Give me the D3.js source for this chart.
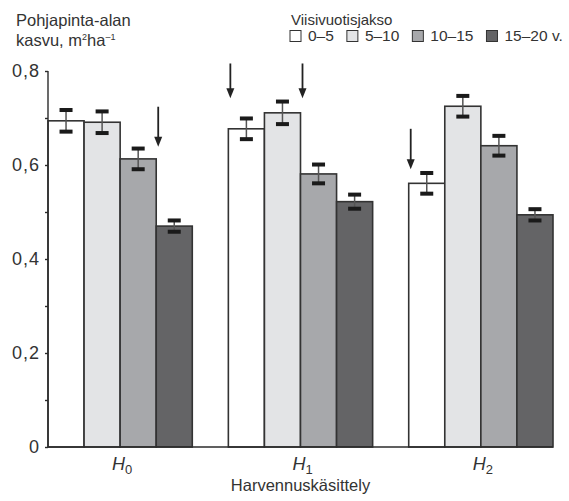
<!DOCTYPE html>
<html lang="fi">
<head>
<meta charset="UTF-8">
<title>Pohjapinta-alan kasvu</title>
<script src="https://d3js.org/d3.v7.min.js"></script>
<style>
    body { margin: 0; background: #fff; }
    svg { display: block; }
    text { font-family: "Liberation Sans", Arial, sans-serif; fill: #333; }
    .axis path, .axis line { stroke: #2b2b2b; stroke-width: 1.4px; }
    .axis text { font-size: 18px; letter-spacing: 1px; fill: #333; font-family: "Liberation Sans", Arial, sans-serif; }
</style>
</head>
<body>
<svg width="569" height="501"></svg>
<script>
// treatments (x groups) and five-year periods (series)
var groups = ["H0", "H1", "H2"],
    groupSub = ["0", "1", "2"],
    periods = ["0–5", "5–10", "10–15", "15–20 v."],
    colors = ["#ffffff", "#e3e4e6", "#a7a8ab", "#646466"];

// basal area growth per period, one array per treatment
var growthH0 = [0.694, 0.691, 0.613, 0.470],
    growthH1 = [0.677, 0.711, 0.581, 0.522],
    growthH2 = [0.561, 0.725, 0.641, 0.494];

// half-width of the error bars
var errH0 = [0.023, 0.023, 0.022, 0.012],
    errH1 = [0.022, 0.024, 0.020, 0.015],
    errH2 = [0.022, 0.022, 0.021, 0.012];

var yTicks = [0, 0.1, 0.2, 0.3, 0.4, 0.5, 0.6, 0.7, 0.8],
    yLabels = ["0", "", "0,2", "", "0,4", "", "0,6", "", "0,8"];

// arrows: group, bar they stand next to, tip value, tail value
var arrows = [
    { group: "H0", bar: 3, tip: 0.639, tail: 0.724 },
    { group: "H1", bar: 0, tip: 0.742, tail: 0.816 },
    { group: "H1", bar: 2, tip: 0.742, tail: 0.816 },
    { group: "H2", bar: 0, tip: 0.591, tail: 0.677 }
];

var growth = [growthH0, growthH1, growthH2],
    errs = [errH0, errH1, errH2];

var rows = [];
groups.forEach(function (g, gi) {
    periods.forEach(function (p, pi) {
        rows.push({ group: g, bar: pi, value: growth[gi][pi], err: errs[gi][pi] });
    });
});

var svg = d3.select("svg"),
    plotLeft = 48, plotRight = 553, plotTop = 71, plotBottom = 447;

var x0 = d3.scaleBand().domain(groups).range([plotLeft, plotRight]).paddingInner(0.2).paddingOuter(0);
var x1 = d3.scaleBand().domain(d3.range(periods.length)).range([0, x0.bandwidth()]);
var y = d3.scaleLinear().domain([0, 0.8]).range([plotBottom, plotTop]);

// bars
svg.append("g").selectAll("rect")
    .data(rows)
    .enter().append("rect")
    .attr("x", function (d) { return x0(d.group) + x1(d.bar); })
    .attr("y", function (d) { return y(d.value); })
    .attr("width", x1.bandwidth())
    .attr("height", function (d) { return y(0) - y(d.value); })
    .attr("fill", function (d) { return colors[d.bar]; })
    .attr("stroke", "#333")
    .attr("stroke-width", 1.6);

// error bars
var eb = svg.append("g").selectAll("g")
    .data(rows)
    .enter().append("g")
    .attr("transform", function (d) {
        return "translate(" + (x0(d.group) + x1(d.bar) + x1.bandwidth() / 2) + ",0)";
    });
eb.append("line")
    .attr("y1", function (d) { return y(d.value + d.err); })
    .attr("y2", function (d) { return y(d.value - d.err); })
    .attr("stroke", "#555")
    .attr("stroke-width", 1.5);
[1, -1].forEach(function (s) {
    eb.append("rect")
        .attr("x", -6.5)
        .attr("y", function (d) { return y(d.value + s * d.err) - 2; })
        .attr("width", 13)
        .attr("height", 4)
        .attr("fill", "#1a1a1a");
});

// y axis
var yAxis = svg.append("g")
    .attr("class", "axis")
    .attr("transform", "translate(" + plotLeft + ",0)")
    .call(d3.axisLeft(y).tickValues(yTicks).tickSize(3).tickPadding(5)
        .tickFormat(function (d, i) { return yLabels[i]; }));
yAxis.select(".domain").attr("d", "M0," + y(0) + "V" + y(0.8));

// baseline
svg.append("line")
    .attr("x1", plotLeft).attr("x2", plotRight)
    .attr("y1", y(0)).attr("y2", y(0))
    .attr("stroke", "#2b2b2b").attr("stroke-width", 1.6);

// group labels
var gl = svg.append("g").selectAll("text")
    .data(groups)
    .enter().append("text")
    .attr("x", function (d) { return x0(d) + x0.bandwidth() / 2 + 2; })
    .attr("y", 470)
    .attr("text-anchor", "middle")
    .style("font-size", "18px");
gl.append("tspan").style("font-style", "italic").text("H");
gl.append("tspan").attr("dy", 4).style("font-size", "13px")
    .text(function (d, i) { return groupSub[i]; });

svg.append("text")
    .attr("x", (plotLeft + plotRight) / 2)
    .attr("y", 491)
    .attr("text-anchor", "middle")
    .style("font-size", "16.5px")
    .text("Harvennuskäsittely");

// y title
var yt = svg.append("text").attr("x", 16).attr("y", 26).style("font-size", "16.5px");
yt.append("tspan").text("Pohjapinta-alan");
var yt2 = svg.append("text").attr("x", 16).attr("y", 46).style("font-size", "16.5px");
yt2.append("tspan").text("kasvu, m");
yt2.append("tspan").attr("dy", -6).style("font-size", "9px").text("2");
yt2.append("tspan").attr("dy", 6).text("ha");
yt2.append("tspan").attr("dy", -6).style("font-size", "9px").text("–1");

// arrows
var ar = svg.append("g").selectAll("g")
    .data(arrows)
    .enter().append("g")
    .attr("transform", function (d) { return "translate(" + (x0(d.group) + x1(d.bar) + 2) + ",0)"; });
ar.append("line")
    .attr("y1", function (d) { return y(d.tail); })
    .attr("y2", function (d) { return y(d.tip) - 8; })
    .attr("stroke", "#222").attr("stroke-width", 1.8);
ar.append("path")
    .attr("d", function (d) {
        var t = y(d.tip);
        return "M-4," + (t - 10) + "L4," + (t - 10) + "L0," + t + "Z";
    })
    .attr("fill", "#222");

// legend
svg.append("text").attr("x", 291).attr("y", 25).style("font-size", "15px").text("Viisivuotisjakso");
var lx = 290;
periods.forEach(function (p, i) {
    svg.append("rect")
        .attr("x", lx).attr("y", 30.5)
        .attr("width", 11).attr("height", 11)
        .attr("fill", colors[i]).attr("stroke", "#333").attr("stroke-width", 1);
    var t = svg.append("text")
        .attr("x", lx + 18).attr("y", 41)
        .style("font-size", "15.5px")
        .text(p);
    lx += 18 + t.node().getComputedTextLength() + 13;
});
</script>
</body>
</html>
